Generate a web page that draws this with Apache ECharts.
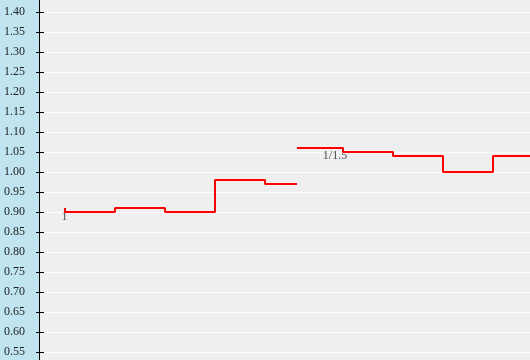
<!DOCTYPE html>
<html><head><meta charset="utf-8">
<script src="https://cdn.jsdelivr.net/npm/echarts@6/dist/echarts.min.js"></script>
<style>html,body{margin:0;padding:0;}#c{width:530px;height:360px;}</style>
</head><body><div id="c"></div>
<script>
// x positions (time units), y values
const seg1X = [2.5, 2.5, 7.5, 12.5, 17.5, 22.5, 25.7];
const seg1Y = [0.91, 0.90, 0.91, 0.90, 0.98, 0.97, 0.97];
const seg2X = [25.7, 30.3, 35.3, 40.3, 45.3, 49];
const seg2Y = [1.06, 1.05, 1.04, 1.00, 1.04, 1.04];
const noteText = ['1', '1/1.5'];
const noteX = [2.45, 29.5];
const noteY = [0.888, 1.04];
const yMin = 0.55, yMax = 1.40, yStep = 0.05;

const chart = echarts.init(document.getElementById('c'), null, {renderer: 'canvas'});
const pair = (xs, ys) => xs.map((x, i) => [x, ys[i]]);
const font = 'Liberation Serif, Times New Roman, serif';
const yBase = {
  type: 'value', min: yMin, max: yMax, interval: yStep, position: 'left'
};
chart.setOption({
  animation: false,
  backgroundColor: '#efefef',
  graphic: [
    {type: 'rect', shape: {x: 0, y: 0, width: 39, height: 360}, style: {fill: '#c0e5f1'}, z: -10, silent: true},
    {type: 'line', shape: {x1: 39.5, y1: 0, x2: 39.5, y2: 360}, style: {stroke: '#000', lineWidth: 1}, z: 10, silent: true}
  ],
  grid: {left: 40, right: 0, top: 12, bottom: 8, containLabel: false},
  xAxis: {type: 'value', min: 0, max: 49, show: false},
  yAxis: [
    Object.assign({}, yBase, {
      axisLine: {show: false},
      axisTick: {show: true, length: 4, lineStyle: {color: '#000'}},
      splitLine: {show: true, lineStyle: {color: '#ffffff', width: 1}},
      axisLabel: {
        margin: 15, color: '#1e1e1e', fontFamily: font, fontSize: 12,
        padding: [0, 0, 8, 0],
        formatter: v => v.toFixed(2)
      }
    }),
    Object.assign({}, yBase, {
      axisLine: {show: false},
      axisTick: {show: true, inside: true, length: 4, lineStyle: {color: '#000'}},
      splitLine: {show: false},
      axisLabel: {show: false}
    })
  ],
  series: [
    {type: 'line', step: 'end', data: pair(seg1X, seg1Y), showSymbol: false,
     lineStyle: {color: '#ff0000', width: 2}, z: 5},
    {type: 'line', step: 'end', data: pair(seg2X, seg2Y), showSymbol: false,
     lineStyle: {color: '#ff0000', width: 2}, z: 5},
    {type: 'scatter', data: pair(noteX, noteY), symbolSize: 0, z: 4,
     label: {show: true, position: 'inside', color: '#1e1e1e', fontFamily: font, fontSize: 12,
       formatter: p => noteText[p.dataIndex]}}
  ]
});
</script></body></html>
